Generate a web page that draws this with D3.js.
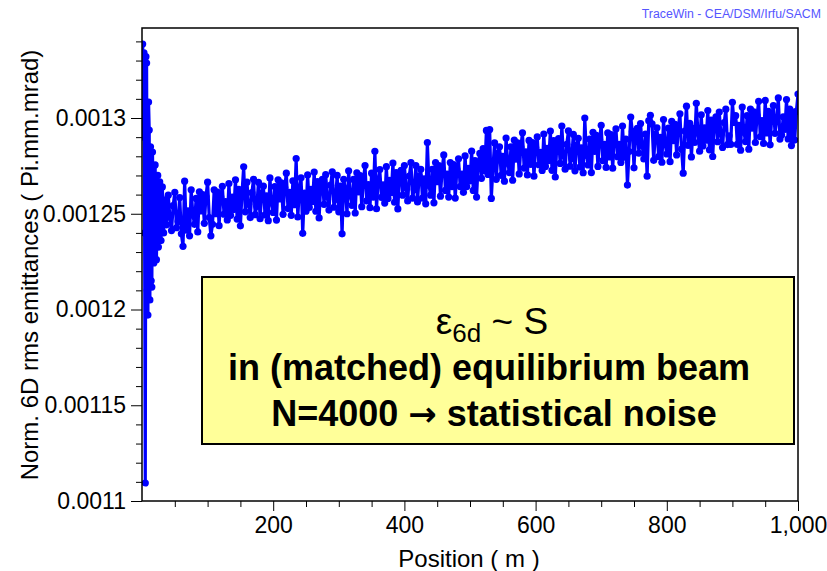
<!DOCTYPE html>
<html>
<head>
<meta charset="utf-8">
<script src="https://cdn.jsdelivr.net/npm/d3@7"></script>
<style>
  body { margin: 0; background: #fff; }
  svg { display: block; font-family: "Liberation Sans", Arial, sans-serif; }
</style>
</head>
<body>
<div id="emit-plot"></div>
<script>

// Set dimensions and margins for the plot
const width = 827;
const height = 571;
const margin = {left: 142, right: 29, top: 28, bottom: 70};

// Start of the lattice: big transient, positions in m
const startPos = [1, 2, 3, 4, 5, 6, 7, 8, 9, 10, 11, 12, 13, 14, 15, 16, 18, 20, 22, 24, 25, 27, 29, 31, 33];
const startEmit = [
  0.0013386, 0.0012900, 0.0013340, 0.0012400, 0.0011094, 0.0013320, 0.0013287, 0.0012100,
  0.0011971, 0.0013083, 0.0012937, 0.0012050, 0.0012850, 0.0012150, 0.0012117, 0.0012822,
  0.0012243, 0.0012755, 0.0012260, 0.0012700, 0.0012326, 0.0012666, 0.0012360, 0.0012640,
  0.0012400
];

// Rest of the lattice, one sample every 2.5 m from 35 m to 1000 m (8 per row = 20 m)
const gridStart = 35;
const gridStep = 2.5;
const emit6d = [
  0.0012572, 0.0012442, 0.0012597, 0.0012482, 0.0012412, 0.0012542, 0.0012612, 0.0012427, // 35
  0.0012460, 0.0012585, 0.0012395, 0.0012330, 0.0012670, 0.0012415, 0.0012515, 0.0012385, // 55
  0.0012625, 0.0012495, 0.0012445, 0.0012580, 0.0012405, 0.0012615, 0.0012515, 0.0012600, // 75
  0.0012450, 0.0012590, 0.0012665, 0.0012480, 0.0012385, 0.0012445, 0.0012625, 0.0012500, // 95
  0.0012613, 0.0012438, 0.0012588, 0.0012643, 0.0012498, 0.0012563, 0.0012468, 0.0012658, // 115
  0.0012492, 0.0012587, 0.0012522, 0.0012677, 0.0012472, 0.0012627, 0.0012437, 0.0012612, // 135
  0.0012745, 0.0012510, 0.0012665, 0.0012550, 0.0012480, 0.0012610, 0.0012680, 0.0012495, // 155
  0.0012539, 0.0012664, 0.0012474, 0.0012609, 0.0012644, 0.0012494, 0.0012594, 0.0012464, // 175
  0.0012687, 0.0012557, 0.0012507, 0.0012642, 0.0012467, 0.0012677, 0.0012577, 0.0012662, // 195
  0.0012497, 0.0012637, 0.0012712, 0.0012527, 0.0012612, 0.0012492, 0.0012672, 0.0012547, // 215
  0.0012788, 0.0012483, 0.0012633, 0.0012688, 0.0012398, 0.0012608, 0.0012513, 0.0012703, // 235
  0.0012533, 0.0012628, 0.0012563, 0.0012718, 0.0012513, 0.0012668, 0.0012478, 0.0012653, // 255
  0.0012679, 0.0012549, 0.0012704, 0.0012589, 0.0012519, 0.0012649, 0.0012719, 0.0012534, // 275
  0.0012575, 0.0012700, 0.0012510, 0.0012645, 0.0012395, 0.0012680, 0.0012630, 0.0012500, // 295
  0.0012724, 0.0012594, 0.0012544, 0.0012679, 0.0012504, 0.0012714, 0.0012614, 0.0012699, // 315
  0.0012537, 0.0012677, 0.0012752, 0.0012567, 0.0012652, 0.0012532, 0.0012712, 0.0012587, // 335
  0.0012826, 0.0012526, 0.0012676, 0.0012731, 0.0012586, 0.0012651, 0.0012556, 0.0012746, // 355
  0.0012580, 0.0012675, 0.0012610, 0.0012765, 0.0012560, 0.0012715, 0.0012525, 0.0012700, // 375
  0.0012727, 0.0012597, 0.0012752, 0.0012637, 0.0012567, 0.0012697, 0.0012767, 0.0012582, // 395
  0.0012627, 0.0012752, 0.0012562, 0.0012697, 0.0012732, 0.0012582, 0.0012682, 0.0012552, // 415
  0.0012872, 0.0012647, 0.0012597, 0.0012732, 0.0012557, 0.0012767, 0.0012667, 0.0012752, // 435
  0.0012592, 0.0012732, 0.0012807, 0.0012622, 0.0012707, 0.0012587, 0.0012767, 0.0012642, // 455
  0.0012757, 0.0012582, 0.0012732, 0.0012787, 0.0012642, 0.0012707, 0.0012612, 0.0012802, // 475
  0.0012642, 0.0012737, 0.0012672, 0.0012827, 0.0012622, 0.0012777, 0.0012587, 0.0012762, // 495
  0.0012815, 0.0012685, 0.0012840, 0.0012725, 0.0012935, 0.0012705, 0.0012940, 0.0012580, // 515
  0.0012745, 0.0012870, 0.0012680, 0.0012815, 0.0012850, 0.0012700, 0.0012800, 0.0012670, // 535
  0.0012895, 0.0012765, 0.0012715, 0.0012850, 0.0012675, 0.0012885, 0.0012785, 0.0012870, // 555
  0.0012708, 0.0012848, 0.0012923, 0.0012738, 0.0012823, 0.0012703, 0.0012883, 0.0012758, // 575
  0.0012871, 0.0012696, 0.0012846, 0.0012901, 0.0012756, 0.0012821, 0.0012726, 0.0012916, // 595
  0.0012747, 0.0012842, 0.0012777, 0.0012932, 0.0012727, 0.0012882, 0.0012692, 0.0012867, // 615
  0.0012893, 0.0012763, 0.0012958, 0.0012803, 0.0012733, 0.0012863, 0.0012933, 0.0012748, // 635
  0.0012789, 0.0012914, 0.0012724, 0.0012859, 0.0012894, 0.0012744, 0.0012844, 0.0012714, // 655
  0.0013000, 0.0012805, 0.0012755, 0.0012890, 0.0012715, 0.0012925, 0.0012825, 0.0012910, // 675
  0.0012747, 0.0012887, 0.0012962, 0.0012777, 0.0012862, 0.0012742, 0.0012922, 0.0012797, // 695
  0.0012913, 0.0012738, 0.0012888, 0.0012943, 0.0012798, 0.0012863, 0.0012768, 0.0012958, // 715
  0.0012795, 0.0012890, 0.0012650, 0.0012825, 0.0013005, 0.0012930, 0.0012740, 0.0012915, // 735
  0.0012946, 0.0012816, 0.0012971, 0.0012856, 0.0012786, 0.0012916, 0.0012696, 0.0012986, // 755
  0.0013014, 0.0012969, 0.0012779, 0.0012914, 0.0012949, 0.0012799, 0.0012899, 0.0012769, // 775
  0.0012992, 0.0012862, 0.0012812, 0.0012947, 0.0012772, 0.0012982, 0.0012882, 0.0012967, // 795
  0.0012807, 0.0012947, 0.0013022, 0.0012837, 0.0012712, 0.0012932, 0.0013062, 0.0012857, // 815
  0.0012972, 0.0012797, 0.0012947, 0.0012872, 0.0013077, 0.0012922, 0.0012827, 0.0013017, // 835
  0.0012854, 0.0012949, 0.0012884, 0.0013039, 0.0012834, 0.0012989, 0.0012799, 0.0012974, // 855
  0.0013006, 0.0012876, 0.0013031, 0.0012916, 0.0012846, 0.0012976, 0.0013046, 0.0012861, // 875
  0.0012907, 0.0012862, 0.0013082, 0.0012977, 0.0013012, 0.0012862, 0.0012962, 0.0012832, // 895
  0.0013057, 0.0012927, 0.0012877, 0.0013012, 0.0012837, 0.0013047, 0.0012947, 0.0013032, // 915
  0.0012872, 0.0013012, 0.0013087, 0.0012902, 0.0012987, 0.0012867, 0.0013092, 0.0012922, // 935
  0.0013035, 0.0012860, 0.0013010, 0.0013065, 0.0012920, 0.0012985, 0.0013105, 0.0012890, // 955
  0.0012911, 0.0013006, 0.0012941, 0.0013096, 0.0012891, 0.0013046, 0.0012856, 0.0013031, // 975
  0.0012885, 0.0013035, 0.0013125                                                          // 995
];

// Axis ticks
const yTicks = [0.0011, 0.00115, 0.0012, 0.00125, 0.0013];
const xTicks = [200, 400, 600, 800, 1000];
const xDomain = [0, 1000];
const yDomain = [0.0011, 0.001347];

// Join the two parts into one list of points
const data = startPos.map((p, i) => ({pos: p, emit: startEmit[i]}))
  .concat(emit6d.map((e, i) => ({pos: gridStart + i * gridStep, emit: e})));

// Builds the svg
const svg = d3.select("#emit-plot")
  .append("svg")
  .attr("width", width)
  .attr("height", height);

// Scales
const xScale = d3.scaleLinear()
  .domain(xDomain)
  .range([margin.left, width - margin.right]);

const yScale = d3.scaleLinear()
  .domain(yDomain)
  .range([height - margin.bottom, margin.top]);

// Clip the trace to the frame
svg.append("clipPath")
  .attr("id", "plot-clip")
  .append("rect")
  .attr("x", margin.left)
  .attr("y", margin.top)
  .attr("width", width - margin.left - margin.right)
  .attr("height", height - margin.top - margin.bottom);

/*
  Axes
*/

// minor y ticks every 1e-5
const yMinor = d3.range(111, 135).filter(v => v % 5 !== 0).map(v => v * 1e-5);
svg.append("g")
  .attr("transform", `translate(${margin.left},0)`)
  .call(d3.axisLeft(yScale).tickValues(yMinor).tickSize(6).tickFormat(""))
  .call(g => g.select(".domain").remove());

// major y ticks + labels
svg.append("g")
  .attr("transform", `translate(${margin.left},0)`)
  .call(d3.axisLeft(yScale).tickValues(yTicks).tickSize(11).tickPadding(5)
          .tickFormat(d => String(+d.toFixed(5))))
  .call(g => g.select(".domain").remove())
  .attr("font-size", "23px")
  .attr("font-family", "Liberation Sans, Arial, sans-serif");

// minor x ticks every 50 m
const xMinor = d3.range(50, 1000, 50).filter(v => v % 200 !== 0);
svg.append("g")
  .attr("transform", `translate(0,${height - margin.bottom})`)
  .call(d3.axisBottom(xScale).tickValues(xMinor).tickSize(6).tickFormat(""))
  .call(g => g.select(".domain").remove());

// major x ticks + labels
svg.append("g")
  .attr("transform", `translate(0,${height - margin.bottom})`)
  .call(d3.axisBottom(xScale).tickValues(xTicks).tickSize(10).tickPadding(6)
          .tickFormat(d3.format(",")))
  .call(g => g.select(".domain").remove())
  .attr("font-size", "23px")
  .attr("font-family", "Liberation Sans, Arial, sans-serif");

svg.selectAll(".tick line").attr("stroke", "#000");
svg.selectAll(".tick text").attr("fill", "#000");

/*
  Trace: line + dot markers
*/

const plot = svg.append("g").attr("clip-path", "url(#plot-clip)");

plot.append("path")
  .datum(data)
  .attr("fill", "none")
  .attr("stroke", "#0000ff")
  .attr("stroke-width", 3.2)
  .attr("stroke-linejoin", "round")
  .attr("d", d3.line().x(d => xScale(d.pos)).y(d => yScale(d.emit)));

plot.selectAll(".dot")
  .data(data)
  .enter()
  .append("circle")
  .attr("class", "dot")
  .attr("cx", d => xScale(d.pos))
  .attr("cy", d => yScale(d.emit))
  .attr("r", 3.6)
  .attr("fill", "#0000ff");

// plot frame
svg.append("rect")
  .attr("x", margin.left)
  .attr("y", margin.top)
  .attr("width", width - margin.left - margin.right)
  .attr("height", height - margin.top - margin.bottom)
  .attr("fill", "none")
  .attr("stroke", "#000")
  .attr("stroke-width", 1.5);

/*
  Titles
*/

svg.append("text")
  .attr("x", (margin.left + width - margin.right) / 2 - 1)
  .attr("y", 567)
  .attr("text-anchor", "middle")
  .attr("font-size", "24px")
  .text("Position ( m )");

svg.append("text")
  .attr("transform", "translate(38,265) rotate(-90)")
  .attr("text-anchor", "middle")
  .attr("font-size", "24px")
  .text("Norm. 6D rms emittances ( Pi.mm.mrad)");

svg.append("text")
  .attr("x", 821)
  .attr("y", 18)
  .attr("text-anchor", "end")
  .attr("font-size", "12.3px")
  .attr("fill", "#5555ff")
  .text("TraceWin - CEA/DSM/Irfu/SACM");

/*
  Annotation box
*/

const note = svg.append("g");

note.append("rect")
  .attr("x", 202)
  .attr("y", 277)
  .attr("width", 592)
  .attr("height", 167)
  .attr("fill", "#ffff99")
  .attr("stroke", "#000")
  .attr("stroke-width", 2);

const line1 = note.append("text")
  .attr("x", 492)
  .attr("y", 334)
  .attr("text-anchor", "middle")
  .attr("font-size", "37px");
line1.append("tspan").text("ε");
line1.append("tspan").attr("dy", 8).attr("font-size", "26px").text("6d");
line1.append("tspan").attr("dy", -8).text(" ~ S");

note.append("text")
  .attr("x", 489)
  .attr("y", 380)
  .attr("text-anchor", "middle")
  .attr("font-size", "36px")
  .attr("font-weight", "bold")
  .text("in (matched) equilibrium beam");

const line3 = note.append("text")
  .attr("x", 494)
  .attr("y", 426)
  .attr("text-anchor", "middle")
  .attr("font-size", "36px")
  .attr("font-weight", "bold");
line3.append("tspan").text("N=4000 ");
line3.append("tspan").attr("font-family", "DejaVu Sans, sans-serif").attr("font-size", "34px").text("→");
line3.append("tspan").text(" statistical noise");

</script>
</body>
</html>
